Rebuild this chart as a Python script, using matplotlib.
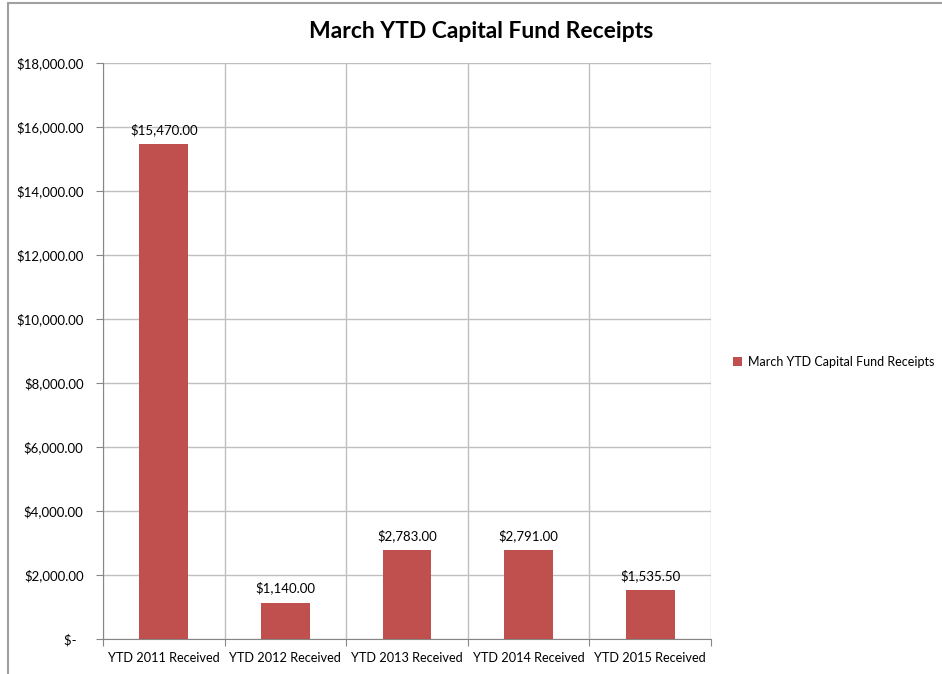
import numpy as np
import matplotlib
matplotlib.use("Agg")
import matplotlib.pyplot as plt
from matplotlib.patches import Rectangle
from matplotlib.ticker import FuncFormatter, MultipleLocator

plt.rcParams['font.family'] = ['Lato', 'DejaVu Sans']

categories = ["YTD 2011 Received", "YTD 2012 Received", "YTD 2013 Received",
              "YTD 2014 Received", "YTD 2015 Received"]
receipts = [15470.00, 1140.00, 2783.00, 2791.00, 1535.50]
series_name = "March YTD Capital Fund Receipts"

bar_color = '#C0504D'
grid_color = '#BFBFBF'
axis_color = '#868686'

fig = plt.figure(figsize=(9.42, 6.74), dpi=100)
ax = fig.add_axes([103/942, 1 - 639/674, (711-103)/942, (639-63)/674])

# outer chart border (cropped on right/bottom like the screenshot)
fig.patches.append(Rectangle((8/942, -0.1), 1.2, 1 - 3/674 + 0.1, transform=fig.transFigure,
                             fill=False, edgecolor='#A0A0A0', linewidth=1.5))

x = np.arange(len(categories))
bars = ax.bar(x, receipts, width=0.4, color=bar_color, label=series_name, zorder=3)

for xi, v in zip(x, receipts):
    ax.text(xi, v + 250, f"${v:,.2f}", ha='center', va='bottom', fontsize=9.5, color='black')

ax.set_xlim(-0.5, len(categories) - 0.5)
ax.set_ylim(0, 18000)
ax.yaxis.set_major_locator(MultipleLocator(2000))
ax.yaxis.set_major_formatter(FuncFormatter(lambda v, p: "$-  " if v == 0 else f"${v:,.2f}"))

# category boundaries as x ticks / vertical gridlines
bounds = np.arange(len(categories) + 1) - 0.5
ax.set_xticks(bounds)
ax.set_xticklabels([])
ax.set_xticks(x, minor=True)
ax.set_xticklabels(categories, minor=True)
ax.tick_params(axis='x', which='minor', length=0, pad=9, labelsize=9.2)
ax.tick_params(axis='x', which='major', length=5, color=axis_color, direction='out')
ax.tick_params(axis='y', length=5, color=axis_color, labelsize=9.5, pad=9)

ax.grid(True, which='major', color=grid_color, linewidth=1, zorder=0)
for s in ['top', 'right']:
    ax.spines[s].set_visible(False)
for s in ['left', 'bottom']:
    ax.spines[s].set_color(axis_color)

fig.text(481/942, 1 - 31/674, "March YTD Capital Fund Receipts", ha='center', va='center',
         fontsize=16.5, fontweight='bold')

fig.legend(handles=[bars], labels=[series_name], loc='center left',
           bbox_to_anchor=(733/942, 1 - 362/674), frameon=False, fontsize=9,
           borderpad=0, borderaxespad=0,
           handlelength=0.7, handleheight=0.7, handletextpad=0.5)

fig.savefig("out.png", dpi=100)
